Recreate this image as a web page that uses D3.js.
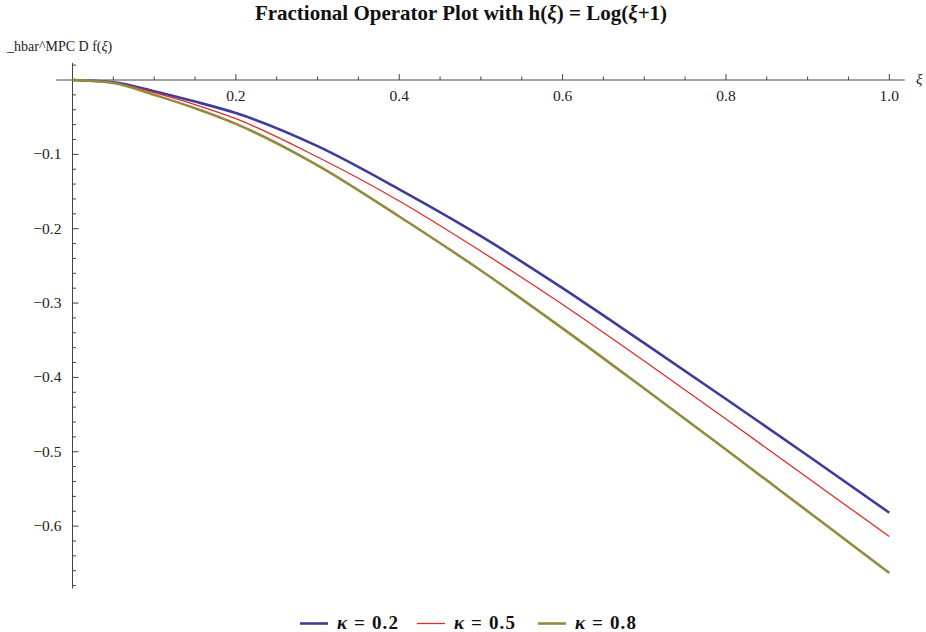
<!DOCTYPE html>
<html><head><meta charset="utf-8">
<script src="https://cdn.jsdelivr.net/npm/d3@7/dist/d3.min.js"></script>
<style>body{margin:0;background:#fff}svg{display:block}text{font-family:"Liberation Serif","Times New Roman",serif}</style>
</head><body>
<svg id="c" width="926" height="632"></svg>
<script>
const xs = [0, 0.05, 0.1, 0.15, 0.2, 0.3, 0.4, 0.5, 0.6, 0.7, 0.8, 0.9, 1.0];
const k02 = [0, -0.003, -0.015, -0.029, -0.0445, -0.089, -0.147, -0.210, -0.280, -0.354, -0.429, -0.505, -0.582];
const k05 = [0, -0.0035, -0.017, -0.033, -0.052, -0.1036, -0.1627, -0.2303, -0.302, -0.378, -0.456, -0.535, -0.614];
const k08 = [0, -0.004, -0.020, -0.038, -0.059, -0.1148, -0.1836, -0.2562, -0.334, -0.415, -0.497, -0.580, -0.663];
const seriesNames = ["κ = 0.2", "κ = 0.5", "κ = 0.8"];
const seriesColors = ["#3d3d99", "#e02a2a", "#948a3d"];
const seriesWidths = [2.6, 1.3, 2.6];
const xMajor = [0.2, 0.4, 0.6, 0.8, 1.0];
const yMajor = [-0.1, -0.2, -0.3, -0.4, -0.5, -0.6];

const svg = d3.select("#c");
const x = d3.scaleLinear().domain([0, 1]).range([72.5, 889.3]);
const y = d3.scaleLinear().domain([0, -0.6]).range([80, 526.1]);
const axisColor = "#444";

// x axis
svg.append("line").attr("x1", x(-0.02)).attr("x2", x(1.019)).attr("y1", y(0)).attr("y2", y(0))
  .attr("stroke", axisColor).attr("stroke-width", 1);
d3.range(1, 21).map(i => i * 0.05).forEach(v => {
  const major = xMajor.some(m => Math.abs(m - v) < 1e-6);
  svg.append("line").attr("x1", x(v)).attr("x2", x(v)).attr("y1", y(0)).attr("y2", y(0) - (major ? 6 : 3.5))
    .attr("stroke", axisColor).attr("stroke-width", 1);
});
xMajor.forEach(v => {
  svg.append("text").attr("x", x(v)).attr("y", y(0) + 21).attr("text-anchor", "middle")
    .attr("font-size", 15.5).attr("fill", "#222").text(d3.format(".1f")(v));
});
svg.append("text").attr("x", 916).attr("y", 84).attr("font-size", 15).attr("font-style", "italic").attr("fill", "#222").text("ξ");

// y axis
svg.append("line").attr("x1", x(0)).attr("x2", x(0)).attr("y1", y(0.023)).attr("y2", y(-0.684))
  .attr("stroke", axisColor).attr("stroke-width", 1);
d3.range(-34, 2).map(i => i * 0.02).forEach(v => {
  if (Math.abs(v) < 1e-9) return;
  const major = yMajor.some(m => Math.abs(m - v) < 1e-6);
  svg.append("line").attr("x1", x(0)).attr("x2", x(0) + (major ? 6 : 3.5)).attr("y1", y(v)).attr("y2", y(v))
    .attr("stroke", axisColor).attr("stroke-width", 1);
});
yMajor.forEach(v => {
  svg.append("text").attr("x", x(0) - 11).attr("y", y(v) + 5).attr("text-anchor", "end")
    .attr("font-size", 15.5).attr("fill", "#222").text("\u2212" + d3.format(".1f")(-v));
});
const yl = svg.append("text").attr("x", 7).attr("y", 51).attr("font-size", 14).attr("fill", "#222");
yl.append("tspan").text("_hbar^MPC D f(");
yl.append("tspan").attr("font-style", "italic").text("ξ");
yl.append("tspan").text(")");

// title
const t = svg.append("text").attr("x", 461).attr("y", 20).attr("text-anchor", "middle")
  .attr("font-size", 21).attr("font-weight", "bold").attr("fill", "#111");
t.append("tspan").text("Fractional Operator Plot with h(");
t.append("tspan").attr("font-style", "italic").text("ξ");
t.append("tspan").text(") = Log(");
t.append("tspan").attr("font-style", "italic").text("ξ");
t.append("tspan").text("+1)");

// curves
const line = d3.line().x(d => x(d[0])).y(d => y(d[1])).curve(d3.curveMonotoneX);
[k02, k05, k08].forEach((s, i) => {
  svg.append("path").datum(xs.map((v, j) => [v, s[j]])).attr("d", line)
    .attr("fill", "none").attr("stroke", seriesColors[i]).attr("stroke-width", seriesWidths[i]);
});

// legend
const legX = [300, 417, 538];
seriesNames.forEach((n, i) => {
  svg.append("line").attr("x1", legX[i]).attr("x2", legX[i] + 28).attr("y1", 623.5).attr("y2", 623.5)
    .attr("stroke", seriesColors[i]).attr("stroke-width", seriesWidths[i]);
  const tt = svg.append("text").attr("x", legX[i] + 37).attr("y", 629).attr("font-size", 19)
    .attr("font-weight", "bold").attr("fill", "#111")
    .attr("textLength", 61).attr("lengthAdjust", "spacing");
  tt.append("tspan").attr("font-style", "italic").text(n.slice(0, 1));
  tt.append("tspan").text(n.slice(1));
});
</script>
</body></html>
